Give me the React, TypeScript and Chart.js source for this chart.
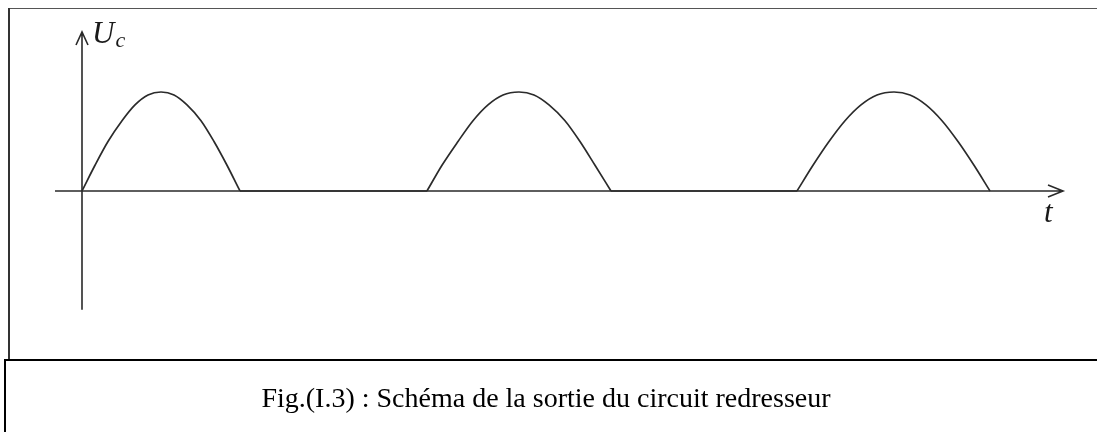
import React, { useEffect, useRef } from "react";
import { Chart, registerables } from "chart.js";

Chart.register(...registerables);

// Time positions (arbitrary units) and normalised voltage of each half-wave
const hump1T = [0, 1.3, 2.6, 4.0, 5.3, 6.6, 7.9, 9.2, 10.5, 11.9, 13.2, 14.5, 15.8];
const hump2T = [34.5, 36.0, 37.6, 39.1, 40.6, 42.1, 43.7, 45.2, 46.7, 48.3, 49.8, 51.3, 52.9];
const hump3T = [71.5, 73.1, 74.7, 76.3, 77.9, 79.5, 81.2, 82.8, 84.4, 86.0, 87.6, 89.2, 90.8];
const humpU = [0, 0.26, 0.5, 0.71, 0.87, 0.97, 1, 0.97, 0.87, 0.71, 0.5, 0.26, 0];
// Flat (zero) intervals between half-waves
const flatT = [15.8, 34.5, null, 52.9, 71.5];
const flatU = [0, 0, null, 0, 0];

const xAxisRange = [-2.7, 98.1];
const yAxisRange = [-1.2, 1.606];
const yLabel = "U";
const ySub = "c";
const xLabel = "t";
const caption = "Fig.(I.3) : Schéma de la sortie du circuit redresseur";

const toPts = (ts: (number | null)[], us: (number | null)[]) =>
  ts.map((t, i) => (t === null ? { x: NaN, y: NaN } : { x: t, y: us[i] as number }));

const axesPlugin = {
  id: "arrowAxes",
  beforeDatasetsDraw(chart: any) {
    const { ctx, scales } = chart;
    const xs = scales.x;
    const ys = scales.y;
    const x0 = xs.getPixelForValue(0);
    const y0 = ys.getPixelForValue(0);
    const xa = xs.getPixelForValue(xAxisRange[0]);
    const xb = xs.getPixelForValue(xAxisRange[1]);
    const ya = ys.getPixelForValue(yAxisRange[0]);
    const yb = ys.getPixelForValue(yAxisRange[1]);
    ctx.save();
    ctx.strokeStyle = "#2a2a2a";
    ctx.lineWidth = 1.6;
    ctx.beginPath();
    ctx.moveTo(xa, y0);
    ctx.lineTo(xb, y0);
    ctx.moveTo(x0, ya);
    ctx.lineTo(x0, yb);
    // arrow heads
    ctx.moveTo(xb - 15, y0 - 6);
    ctx.lineTo(xb, y0);
    ctx.lineTo(xb - 15, y0 + 6);
    ctx.moveTo(x0 - 6, yb + 13);
    ctx.lineTo(x0, yb);
    ctx.lineTo(x0 + 6, yb + 13);
    ctx.stroke();
    // labels
    ctx.fillStyle = "#1a1a1a";
    ctx.textBaseline = "alphabetic";
    ctx.font = "italic 31px 'Liberation Serif', serif";
    ctx.fillText(yLabel, x0 + 10, yb + 11);
    const w = ctx.measureText(yLabel).width;
    ctx.font = "italic 22px 'Liberation Serif', serif";
    ctx.fillText(ySub, x0 + 10 + w + 1, yb + 15);
    ctx.font = "italic 31px 'Liberation Serif', serif";
    ctx.fillText(xLabel, xb - 19, y0 + 31);
    ctx.restore();
  },
};

export default function App() {
  const ref = useRef<HTMLCanvasElement | null>(null);
  useEffect(() => {
    if (!ref.current) return;
    const lineStyle = {
      borderColor: "#2b2b2b",
      borderWidth: 1.7,
      pointRadius: 0,
      fill: false,
      cubicInterpolationMode: "monotone" as const,
    };
    const chart = new Chart(ref.current, {
      type: "line",
      data: {
        datasets: [
          { ...lineStyle, data: toPts(hump1T, humpU) },
          { ...lineStyle, data: toPts(hump2T, humpU) },
          { ...lineStyle, data: toPts(hump3T, humpU) },
          { ...lineStyle, data: toPts(flatT, flatU), spanGaps: false },
        ],
      },
      options: {
        animation: false,
        responsive: false,
        devicePixelRatio: 1,
        layout: { padding: 0 },
        plugins: { legend: { display: false }, tooltip: { enabled: false } },
        scales: {
          x: { type: "linear", min: -8.2, max: 101.5, display: false },
          y: { type: "linear", min: -1.707, max: 1.929, display: false },
        },
      },
      plugins: [axesPlugin],
    });
    return () => chart.destroy();
  }, []);

  return (
    <div style={{ position: "absolute", left: 0, top: 0, width: 1097, height: 432, background: "#fff", overflow: "hidden" }}>
      <canvas ref={ref} width={1097} height={360} style={{ position: "absolute", left: 0, top: 0, width: 1097, height: 360 }} />
      <div style={{ position: "absolute", left: 8, top: 8, width: 1089, height: 0, borderTop: "1.5px solid #555" }} />
      <div style={{ position: "absolute", left: 8, top: 8, width: 0, height: 351, borderLeft: "2px solid #333" }} />
      <div style={{ position: "absolute", left: 4, top: 359, width: 1093, height: 73, borderTop: "2px solid #000", borderLeft: "2px solid #000", boxSizing: "border-box" }} />
      <div style={{ position: "absolute", left: 0, top: 383, width: 1092, textAlign: "center", fontFamily: "'Liberation Serif', 'Times New Roman', serif", fontSize: 28, lineHeight: "30px", color: "#000" }}>
        {caption}
      </div>
    </div>
  );
}
